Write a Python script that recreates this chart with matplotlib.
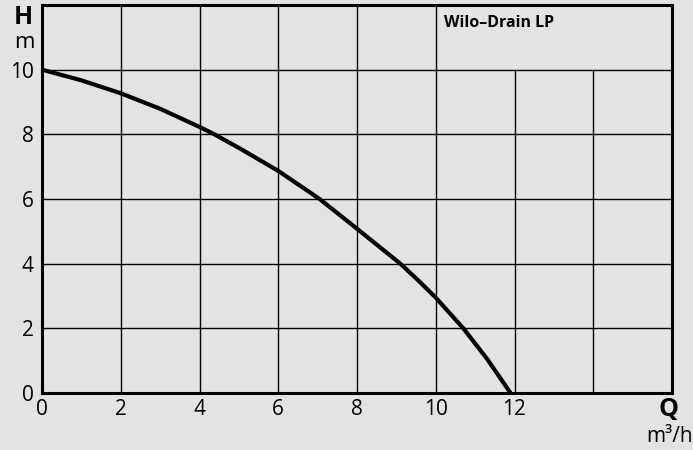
import matplotlib
matplotlib.use("Agg")
import matplotlib.pyplot as plt

plt.rcParams['font.family'] = ['Open Sans', 'DejaVu Sans']

# Data
flow_q = [0, 1, 2, 3, 4, 4.38, 5, 6, 7.05, 8, 9.1, 9.55, 10, 10.7, 11.3, 11.9]
head_h = [10, 9.67, 9.27, 8.79, 8.23, 8.0, 7.58, 6.87, 6.0, 5.08, 4.0, 3.49, 2.95, 2.0, 1.06, 0.0]
x_ticks = [0, 2, 4, 6, 8, 10, 12]
y_ticks = [0, 2, 4, 6, 8, 10]
title_text = "Wilo–Drain LP"

bg = "#e2e3e5"
fig = plt.figure(figsize=(6.93, 4.5), dpi=100, facecolor=bg)
ax = fig.add_axes([42/693, 57/450, 630/693, 388/450])
ax.set_facecolor(bg)
ax.set_xlim(0, 16)
ax.set_ylim(0, 12)

# grid
for x in [2, 4, 6, 8, 10]:
    ax.axvline(x, color="black", lw=1.0, zorder=1)
for x in [12, 14]:
    ax.axvline(x, ymax=10/12, color="black", lw=1.0, zorder=1)
for y in [2, 4, 6, 8, 10]:
    ax.axhline(y, color="black", lw=1.0, zorder=1)

ax.plot(flow_q, head_h, color="black", lw=3.0, zorder=3,
        solid_capstyle="butt", solid_joinstyle="round")

for s in ax.spines.values():
    s.set_linewidth(2.2)
    s.set_color("black")

ax.set_xticks(x_ticks)
ax.set_yticks(y_ticks)
ax.tick_params(length=0, labelsize=15)
ax.tick_params(axis="x", pad=4)
ax.tick_params(axis="y", pad=6)

ax.text(10.22, 11.45, title_text, fontsize=11.5, fontweight="bold", va="center", ha="left")

fig.text(23/693, 1 - 17/450, "H", fontsize=18, fontweight="bold", ha="center", va="center")
fig.text(24/693, 1 - 43/450, "m", fontsize=16, ha="center", va="center")
fig.text(668/693, 1 - 410/450, "Q", fontsize=18, fontweight="bold", ha="center", va="center")
fig.text(693/693, 1 - 437/450, "m³/h", fontsize=15, ha="right", va="center")

fig.savefig("out.png", dpi=100, facecolor=bg)
